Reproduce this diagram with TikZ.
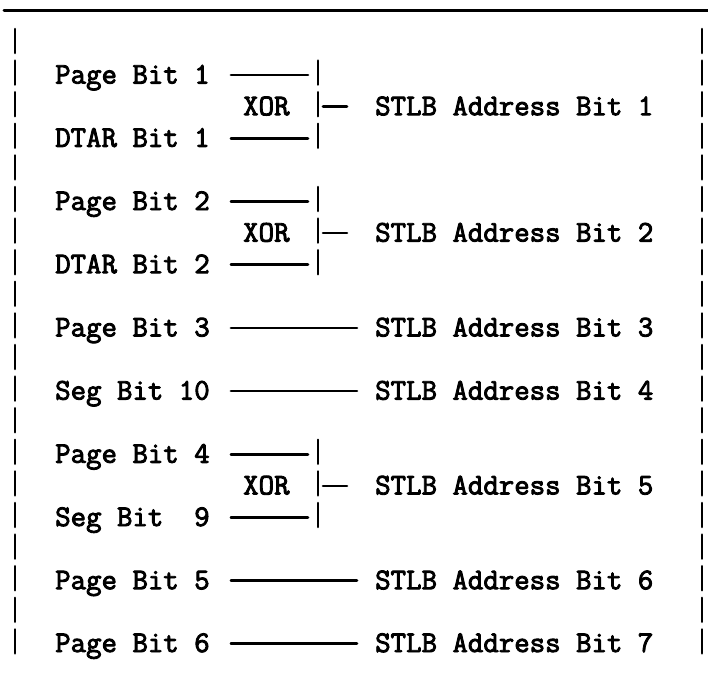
\documentclass[tikz,border=0pt]{standalone}
\usepackage{fontspec}
\usepackage{tikz}
\newfontfamily\typefont[FakeBold=3]{Latin Modern Mono}

\begin{document}
\begin{tikzpicture}[line cap=round,line join=round,x=1pt,y=-1pt,
  lbl/.style={anchor=base west,inner sep=0pt,text height=20pt,text depth=3pt,font=\typefont\fontsize{30}{34}\selectfont},
  wire/.style={line width=2.6pt},
  bar/.style={line width=2.6pt}]
\useasboundingbox (0,0) rectangle (708,683);
\draw [line width=3pt] (4,10)-- (708,10);
\foreach \r in {0,...,19}
{
  \draw [bar] (15,{52+31.6*\r-23})-- (15,{52+31.6*\r+1});
  \draw [bar] (702,{52+31.6*\r-23})-- (702,{52+31.6*\r+1});
}
\foreach \r in {1,2,3,5,6,7,13,14,15}
  \draw [bar] (318,{52+31.6*\r-23})-- (318,{52+31.6*\r+1});
% inputs
\node [lbl] (pg1) at (55,83.6) {Page Bit 1};
\node [lbl] (dt1) at (55,146.8) {DTAR Bit 1};
\node [lbl] (pg2) at (55,210) {Page Bit 2};
\node [lbl] (dt2) at (55,273.2) {DTAR Bit 2};
\node [lbl] (pg3) at (55,336.4) {Page Bit 3};
\node [lbl] (sg10) at (55,399.6) {Seg Bit 10};
\node [lbl] (pg4) at (55,462.8) {Page Bit 4};
\node [lbl] (sg9) at (55,526) {Seg Bit\ \ 9};
\node [lbl] (pg5) at (55,589.2) {Page Bit 5};
\node [lbl] (pg6) at (55,652) {Page Bit 6};
% gates
\node [lbl] (xor1) at (243,115.2) {XOR};
\node [lbl] (xor2) at (243,241.6) {XOR};
\node [lbl] (xor3) at (243,494.4) {XOR};
\coordinate (g1) at (318,106.7);
\coordinate (g2) at (318,233.1);
\coordinate (g3) at (318,485.9);
% outputs
\node [lbl] (out1) at (375,115.2) {STLB Address Bit 1};
\node [lbl] (out2) at (375,241.6) {STLB Address Bit 2};
\node [lbl] (out3) at (375,336.4) {STLB Address Bit 3};
\node [lbl] (out4) at (375,399.6) {STLB Address Bit 4};
\node [lbl] (out5) at (375,494.4) {STLB Address Bit 5};
\node [lbl] (out6) at (375,589.2) {STLB Address Bit 6};
\node [lbl] (out7) at (375,652) {STLB Address Bit 7};
% wires
\draw [wire,shorten <=21pt,shorten >=10pt] (pg1.east)-- (pg1.east -| g1);
\draw [wire,shorten <=21pt,shorten >=10pt] (dt1.east)-- (dt1.east -| g1);
\draw [wire,shorten <=5pt,shorten >=28pt] (g1)-- (out1.west);
\draw [wire,shorten <=21pt,shorten >=10pt] (pg2.east)-- (pg2.east -| g2);
\draw [wire,shorten <=21pt,shorten >=10pt] (dt2.east)-- (dt2.east -| g2);
\draw [wire,shorten <=5pt,shorten >=28pt] (g2)-- (out2.west);
\draw [wire,shorten <=21pt,shorten >=18pt] (pg3.east)-- (out3.west);
\draw [wire,shorten <=21pt,shorten >=18pt] (sg10.east)-- (out4.west);
\draw [wire,shorten <=21pt,shorten >=10pt] (pg4.east)-- (pg4.east -| g3);
\draw [wire,shorten <=21pt,shorten >=10pt] (sg9.east)-- (sg9.east -| g3);
\draw [wire,shorten <=5pt,shorten >=28pt] (g3)-- (out5.west);
\draw [wire,shorten <=21pt,shorten >=18pt] (pg5.east)-- (out6.west);
\draw [wire,shorten <=21pt,shorten >=18pt] (pg6.east)-- (out7.west);
\end{tikzpicture}
\end{document}
